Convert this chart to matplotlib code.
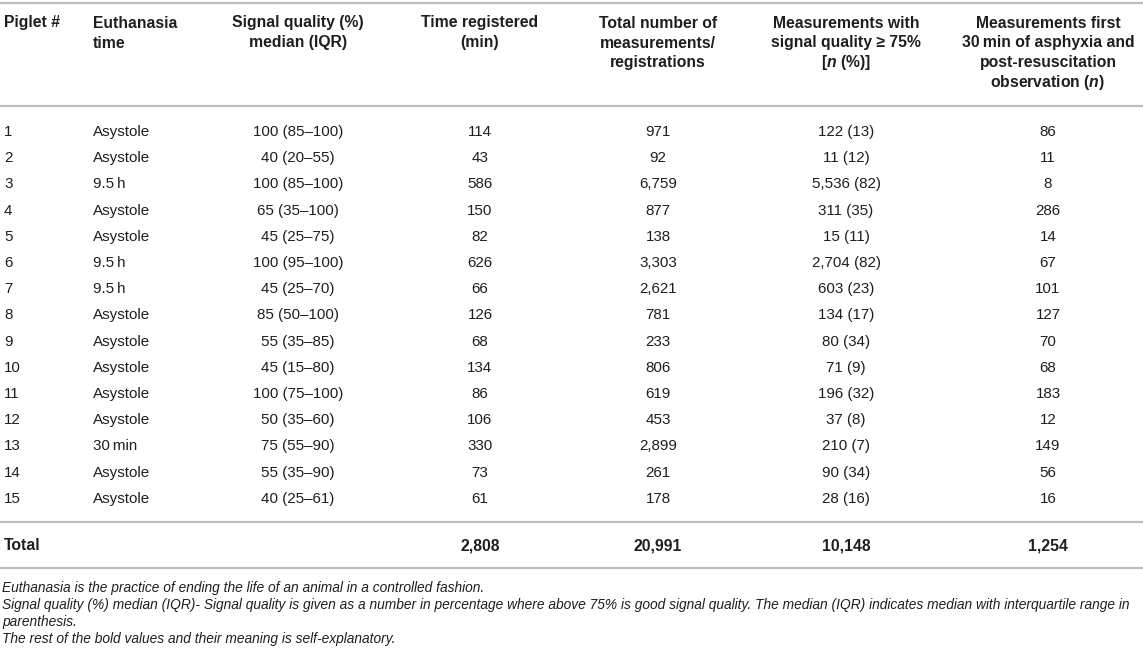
import matplotlib
matplotlib.use("Agg")
import matplotlib.pyplot as plt

plt.rcParams['font.family'] = ['Liberation Sans', 'DejaVu Sans']
plt.rcParams['mathtext.fontset'] = 'custom'
plt.rcParams['mathtext.it'] = 'Liberation Sans:italic:bold'
plt.rcParams['mathtext.rm'] = 'Liberation Sans:bold'

# table content
headers = [
    ["Piglet #"],
    ["Euthanasia", "time"],
    ["Signal quality (%)", "median (IQR)"],
    ["Time registered", "(min)"],
    ["Total number of", "measurements/", "registrations"],
    ["Measurements with", "signal quality \u2265 75%", "[$n$ (%)]"],
    ["Measurements first", "30\u2009min of asphyxia and", "post-resuscitation",
     "observation ($n$)"],
]
piglets = [str(i) for i in range(1, 16)]
euthanasia = ["Asystole", "Asystole", "9.5\u2009h", "Asystole", "Asystole",
              "9.5\u2009h", "9.5\u2009h", "Asystole", "Asystole", "Asystole",
              "Asystole", "Asystole", "30\u2009min", "Asystole", "Asystole"]
signal_quality = ["100 (85\u2013100)", "40 (20\u201355)", "100 (85\u2013100)",
                  "65 (35\u2013100)", "45 (25\u201375)", "100 (95\u2013100)",
                  "45 (25\u201370)", "85 (50\u2013100)", "55 (35\u201385)",
                  "45 (15\u201380)", "100 (75\u2013100)", "50 (35\u201360)",
                  "75 (55\u201390)", "55 (35\u201390)", "40 (25\u201361)"]
time_registered = ["114", "43", "586", "150", "82", "626", "66", "126", "68",
                   "134", "86", "106", "330", "73", "61"]
total_measurements = ["971", "92", "6,759", "877", "138", "3,303", "2,621",
                      "781", "233", "806", "619", "453", "2,899", "261", "178"]
good_measurements = ["122 (13)", "11 (12)", "5,536 (82)", "311 (35)",
                     "15 (11)", "2,704 (82)", "603 (23)", "134 (17)",
                     "80 (34)", "71 (9)", "196 (32)", "37 (8)", "210 (7)",
                     "90 (34)", "28 (16)"]
first_30min = ["86", "11", "8", "286", "14", "67", "101", "127", "70", "68",
               "183", "12", "149", "56", "16"]
totals = ["Total", "", "", "2,808", "20,991", "10,148", "1,254"]
footnotes = [
    "Euthanasia is the practice of ending the life of an animal in a controlled fashion.",
    "Signal quality (%) median (IQR)- Signal quality is given as a number in percentage "
    "where above 75% is good signal quality. The median (IQR) indicates median with "
    "interquartile range in",
    "parenthesis.",
    "The rest of the bold values and their meaning is self-explanatory.",
]

W, H = 1143, 653
fig = plt.figure(figsize=(W / 100, H / 100), dpi=100)
ax = fig.add_axes([0, 0, 1, 1])
ax.set_xlim(0, W)
ax.set_ylim(H, 0)
ax.axis('off')

col_x = [4, 93, 298, 480, 658, 846, 1048]
col_ha = ['left', 'left', 'center', 'center', 'center', 'center', 'center']
fs = 10.9
head_fs = 11.3
txt_color = '#1e1e1e'
line_color = '#bdbdbd'

# rules
for y in [3, 106, 522, 568]:
    ax.plot([0, W], [y, y], color=line_color, lw=1.6, solid_capstyle='butt')

# header (baseline aligned so descenders don't shift lines)
for j, lines in enumerate(headers):
    for k, s in enumerate(lines):
        ax.text(col_x[j], 27.5 + 20 * k, s, ha=col_ha[j], va='baseline',
                fontsize=head_fs, fontweight='bold', color=txt_color)

# body rows
columns = [piglets, euthanasia, signal_quality, time_registered,
           total_measurements, good_measurements, first_30min]
row_y0, row_dy = 136, 26.2
for i in range(len(piglets)):
    y = row_y0 + i * row_dy
    for j, col in enumerate(columns):
        ax.text(col_x[j], y, col[i], ha=col_ha[j], va='baseline',
                fontsize=fs, color=txt_color)

# total row
for j, s in enumerate(totals):
    if s:
        ax.text(col_x[j], 550.5, s, ha=col_ha[j], va='baseline',
                fontsize=head_fs, fontweight='bold', color=txt_color)

# footnotes, sized so the long line fills the width
fig.canvas.draw()
renderer = fig.canvas.get_renderer()
probe = ax.text(0, 0, footnotes[1], fontsize=9, style='italic')
wpx = probe.get_window_extent(renderer).width
probe.remove()
fn_fs = 9 * 1134 / wpx
for k, s in enumerate(footnotes):
    ax.text(2, 592 + 17 * k, s, ha='left', va='baseline', fontsize=fn_fs,
            style='italic', color=txt_color)

fig.savefig("out.png", dpi=100)
